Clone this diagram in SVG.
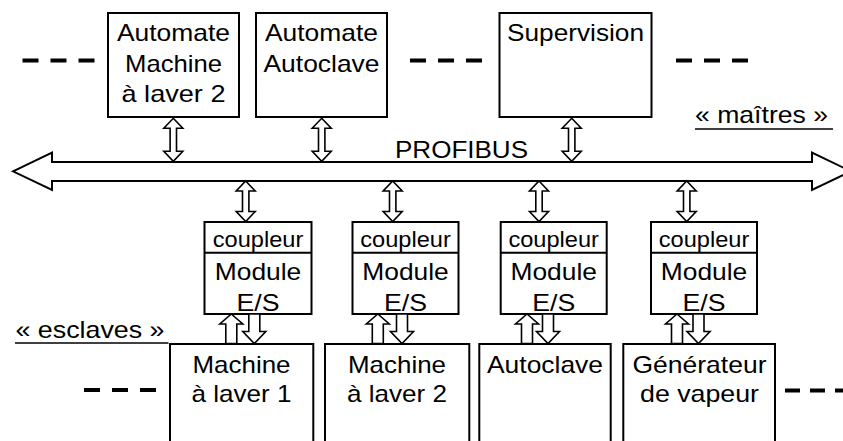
<svg xmlns="http://www.w3.org/2000/svg" width="843" height="441" viewBox="0 0 843 441">
  <style>
    .box { fill: #fff; stroke: #000; stroke-width: 2; }
    .bus { fill: #fff; stroke: #000; stroke-width: 2; stroke-linejoin: miter; }
    .arr { fill: #fff; stroke: #000; stroke-width: 1.6; stroke-linejoin: miter; }
    .dash { stroke: #000; stroke-width: 4; stroke-dasharray: 16 12; }
    .rule { stroke: #000; stroke-width: 1.5; }
    text { font-family: "Liberation Sans", Arial, sans-serif; font-size: 24px; fill: #000; text-anchor: middle; lengthAdjust: spacingAndGlyphs; }
    .small { font-size: 22px; }
  </style>
  <defs>
    <!-- double-headed link between a master and the bus -->
    <path id="dbl-master" class="arr" d="M0,0 L9.5,10 L3.2,10 L3.2,33 L9.5,33 L0,43 L-9.5,33 L-3.2,33 L-3.2,10 L-9.5,10 Z"/>
    <!-- double-headed link between the bus and a coupler -->
    <path id="dbl-slave" class="arr" d="M0,0 L9.5,10 L3.2,10 L3.2,30.5 L9.5,30.5 L0,40.5 L-9.5,30.5 L-3.2,30.5 L-3.2,10 L-9.5,10 Z"/>
    <!-- inputs (up) and outputs (down) between an I/O module and its machine -->
    <path id="io-up" class="arr" d="M0,0 L11.5,10 L5.5,10 L5.5,29.5 L-5.5,29.5 L-5.5,10 L-11.5,10 Z"/>
    <path id="io-down" class="arr" d="M-5.5,0 L5.5,0 L5.5,17.5 L11.5,17.5 L0,29.5 L-11.5,17.5 L-5.5,17.5 Z"/>
  </defs>

  <!-- continuation dashes -->
  <g id="continuations">
    <line class="dash" x1="22.5" y1="60.5" x2="94.5" y2="60.5"/>
    <line class="dash" x1="410" y1="60.5" x2="482" y2="60.5"/>
    <line class="dash" x1="676" y1="60.5" x2="748" y2="60.5"/>
    <line class="dash" x1="84" y1="390" x2="156" y2="390"/>
    <line class="dash" x1="785" y1="390.5" x2="843" y2="390.5" style="stroke-dasharray:15 10"/>
  </g>

  <!-- masters -->
  <g id="automate-machine-laver-2">
    <rect class="box" x="108" y="13" width="131" height="104"/>
    <text x="173.5" y="40.5" textLength="113" lengthAdjust="spacingAndGlyphs">Automate</text>
    <text x="173.5" y="72" textLength="97" lengthAdjust="spacingAndGlyphs">Machine</text>
    <text x="173.5" y="101.5" textLength="104" lengthAdjust="spacingAndGlyphs">à laver 2</text>
  </g>
  <g id="automate-autoclave">
    <rect class="box" x="256" y="13" width="131" height="104"/>
    <text x="321.5" y="40.5" textLength="113" lengthAdjust="spacingAndGlyphs">Automate</text>
    <text x="321.5" y="72" textLength="116" lengthAdjust="spacingAndGlyphs">Autoclave</text>
  </g>
  <g id="supervision">
    <rect class="box" x="499.5" y="13" width="152" height="104"/>
    <text x="575.5" y="40.5" textLength="137" lengthAdjust="spacingAndGlyphs">Supervision</text>
  </g>
  <g id="label-maitres">
    <text x="761.5" y="123" textLength="133" lengthAdjust="spacingAndGlyphs">« maîtres »</text>
    <line class="rule" x1="695" y1="129" x2="833" y2="129"/>
  </g>

  <!-- fieldbus -->
  <g id="profibus">
    <polygon class="bus" points="13,171.3 52,152.7 52,162 812,162 812,152.7 851,171.3 812,190 812,181 52,181 52,190"/>
    <text x="461.5" y="158" textLength="133" lengthAdjust="spacingAndGlyphs">PROFIBUS</text>
  </g>

  <!-- couplers with I/O modules -->
  <g id="module-es-1">
    <rect class="box" x="204.5" y="222" width="107" height="92"/>
    <line class="box" x1="204.5" y1="252.7" x2="311.5" y2="252.7"/>
    <text class="small" x="258" y="246.5" textLength="90.5" lengthAdjust="spacingAndGlyphs">coupleur</text>
    <text x="258" y="280" textLength="86.5" lengthAdjust="spacingAndGlyphs">Module</text>
    <text x="258" y="310.5" textLength="43" lengthAdjust="spacingAndGlyphs">E/S</text>
  </g>
  <g id="module-es-2">
    <rect class="box" x="352.5" y="222" width="106" height="92"/>
    <line class="box" x1="352.5" y1="252.7" x2="458.5" y2="252.7"/>
    <text class="small" x="405.5" y="246.5" textLength="90.5" lengthAdjust="spacingAndGlyphs">coupleur</text>
    <text x="405.5" y="280" textLength="86.5" lengthAdjust="spacingAndGlyphs">Module</text>
    <text x="405.5" y="310.5" textLength="43" lengthAdjust="spacingAndGlyphs">E/S</text>
  </g>
  <g id="module-es-3">
    <rect class="box" x="500.7" y="222" width="106" height="92"/>
    <line class="box" x1="500.7" y1="252.7" x2="606.7" y2="252.7"/>
    <text class="small" x="553.7" y="246.5" textLength="90.5" lengthAdjust="spacingAndGlyphs">coupleur</text>
    <text x="553.7" y="280" textLength="86.5" lengthAdjust="spacingAndGlyphs">Module</text>
    <text x="553.7" y="310.5" textLength="43" lengthAdjust="spacingAndGlyphs">E/S</text>
  </g>
  <g id="module-es-4">
    <rect class="box" x="651" y="222" width="106" height="92"/>
    <line class="box" x1="651" y1="252.7" x2="757" y2="252.7"/>
    <text class="small" x="704" y="246.5" textLength="90.5" lengthAdjust="spacingAndGlyphs">coupleur</text>
    <text x="704" y="280" textLength="86.5" lengthAdjust="spacingAndGlyphs">Module</text>
    <text x="704" y="310.5" textLength="43" lengthAdjust="spacingAndGlyphs">E/S</text>
  </g>

  <!-- slaves -->
  <g id="label-esclaves">
    <text x="90" y="337.5" textLength="149" lengthAdjust="spacingAndGlyphs">« esclaves »</text>
    <line class="rule" x1="15" y1="343" x2="168.5" y2="343"/>
  </g>
  <g id="machine-laver-1">
    <rect class="box" x="170" y="344" width="143.3" height="130"/>
    <text x="241.5" y="373" textLength="98" lengthAdjust="spacingAndGlyphs">Machine</text>
    <text x="241.5" y="401.7" textLength="100" lengthAdjust="spacingAndGlyphs">à laver 1</text>
  </g>
  <g id="machine-laver-2">
    <rect class="box" x="325" y="344" width="144.3" height="130"/>
    <text x="397" y="373" textLength="98" lengthAdjust="spacingAndGlyphs">Machine</text>
    <text x="397" y="401.7" textLength="100" lengthAdjust="spacingAndGlyphs">à laver 2</text>
  </g>
  <g id="autoclave">
    <rect class="box" x="479.3" y="344" width="131.4" height="130"/>
    <text x="545" y="372.5" textLength="116" lengthAdjust="spacingAndGlyphs">Autoclave</text>
  </g>
  <g id="generateur-vapeur">
    <rect class="box" x="623.3" y="344" width="151.7" height="130"/>
    <text x="699.5" y="372.5" textLength="134" lengthAdjust="spacingAndGlyphs">Générateur</text>
    <text x="699.5" y="401.7" textLength="119" lengthAdjust="spacingAndGlyphs">de vapeur</text>
  </g>

  <!-- links -->
  <g id="connectors">
    <use href="#dbl-master" x="173.3" y="118.3"/>
    <use href="#dbl-master" x="321.7" y="118.3"/>
    <use href="#dbl-master" x="571.7" y="118.3"/>

    <use href="#dbl-slave" x="245.7" y="181"/>
    <use href="#dbl-slave" x="392.7" y="181"/>
    <use href="#dbl-slave" x="539" y="181"/>
    <use href="#dbl-slave" x="686.7" y="181"/>

    <use href="#io-up" x="231.3" y="314"/>
    <use href="#io-down" x="254.3" y="314"/>
    <use href="#io-up" x="377.8" y="314"/>
    <use href="#io-down" x="402" y="314"/>
    <use href="#io-up" x="527" y="314"/>
    <use href="#io-down" x="548" y="314"/>
    <use href="#io-up" x="677" y="314"/>
    <use href="#io-down" x="698.5" y="314"/>
  </g>
</svg>
